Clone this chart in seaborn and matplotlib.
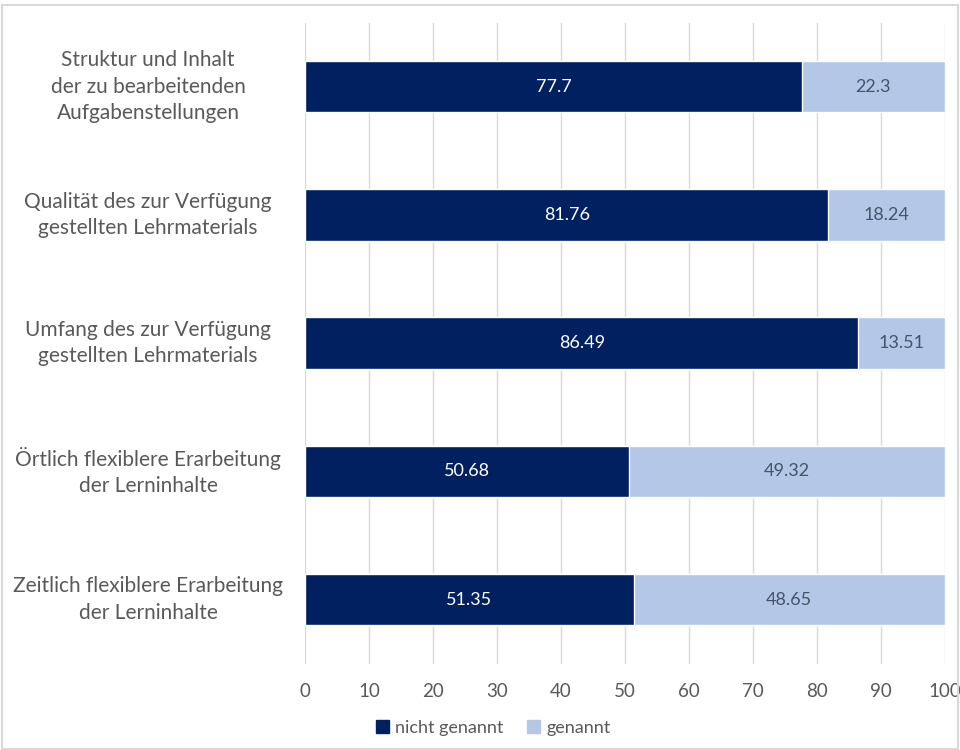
import pandas as pd
import matplotlib.pyplot as plt
import seaborn as sns
from matplotlib.patches import Rectangle, Patch

categories = [
    "Struktur und Inhalt\nder zu bearbeitenden\nAufgabenstellungen",
    "Qualität des zur Verfügung\ngestellten Lehrmaterials",
    "Umfang des zur Verfügung\ngestellten Lehrmaterials",
    "Örtlich flexiblere Erarbeitung\nder Lerninhalte",
    "Zeitlich flexiblere Erarbeitung\nder Lerninhalte",
]
nicht_genannt = [77.7, 81.76, 86.49, 50.68, 51.35]
genannt = [22.3, 18.24, 13.51, 49.32, 48.65]
x_ticks = [0, 10, 20, 30, 40, 50, 60, 70, 80, 90, 100]

dark = "#002060"
light = "#B4C7E7"
grey_text = "#595959"

sns.set_theme(style="white")
plt.rcParams['font.family'] = ['Lato', 'DejaVu Sans']

df = pd.DataFrame({"Kategorie": categories,
                   "nicht genannt": nicht_genannt,
                   "genannt": genannt})
df["gesamt"] = df["nicht genannt"] + df["genannt"]

fig = plt.figure(figsize=(9.6, 7.5), dpi=100)
ax = fig.add_axes([0.318, 0.115, 0.666, 0.855])

# gestapelt: erst Gesamt (hell), dann den dunklen Teil darüber
sns.barplot(data=df, y="Kategorie", x="gesamt", color=light, width=0.4,
            saturation=1, ax=ax, orient="h")
sns.barplot(data=df, y="Kategorie", x="nicht genannt", color=dark, width=0.4,
            saturation=1, ax=ax, orient="h")

# Werte in den Balken
for i, (a, b) in enumerate(zip(nicht_genannt, genannt)):
    ax.text(a / 2, i, f"{a:g}", ha="center", va="center", color="white", fontsize=13)
    ax.text(a + b / 2, i, f"{b:g}", ha="center", va="center", color="#44546A", fontsize=13)

ax.set_xlim(0, 100)
ax.set_xticks(x_ticks)
ax.set_xticklabels([str(t) for t in x_ticks], color=grey_text, fontsize=13.5)
ax.tick_params(axis="x", length=0, pad=14)

# Kategorien als eigene Texte, mittig im linken Rand
ax.set_yticklabels([])
ax.tick_params(axis="y", length=0)
for i, cat in enumerate(categories):
    ax.text(-0.2457, i, cat, transform=ax.get_yaxis_transform(), ha="center",
            va="center", multialignment="center", color=grey_text, fontsize=15,
            linespacing=1.4)

ax.xaxis.grid(True, color="#D9D9D9", linewidth=1)
ax.set_axisbelow(True)
ax.set_xlabel("")
ax.set_ylabel("")
for s in ax.spines.values():
    s.set_visible(False)

handles = [Patch(color=dark, label="nicht genannt"), Patch(color=light, label="genannt")]
fig.legend(handles=handles, loc="center", bbox_to_anchor=(0.514, 0.03), ncol=2,
           frameon=False, fontsize=13, handlelength=0.7, handleheight=0.7,
           handletextpad=0.35, columnspacing=1.3, labelcolor=grey_text)

# heller Rahmen um die Grafik
fig.patches.append(Rectangle((0.002, 0.002), 0.996, 0.991, transform=fig.transFigure,
                             fill=False, edgecolor="#D9D9D9", linewidth=1.5))

fig.savefig("out.png", dpi=100)
